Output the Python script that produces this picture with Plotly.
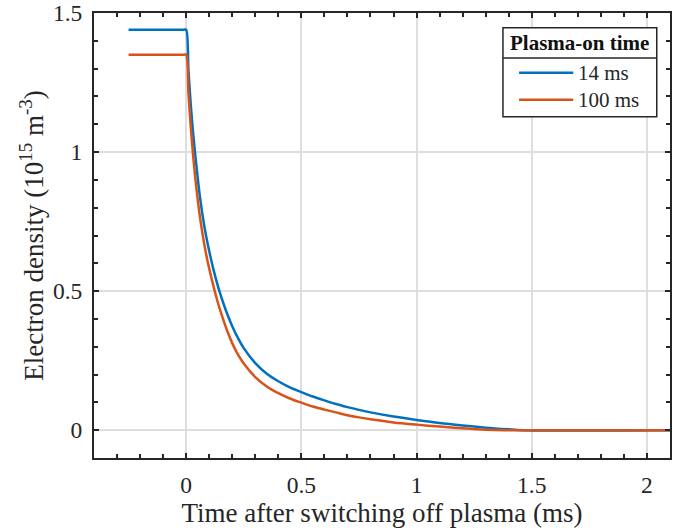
import plotly.graph_objects as go

# Data (time in ms, density in 1e15 m^-3)
t_14 = [-0.25, -0.01, 0, 0.01, 0.02, 0.03, 0.04, 0.06, 0.08, 0.10, 0.12, 0.14, 0.16, 0.18,
        0.20, 0.22, 0.25, 0.30, 0.35, 0.40, 0.45, 0.50, 0.55, 0.60, 0.65, 0.70, 0.75, 0.80,
        0.90, 1.00, 1.10, 1.20, 1.30, 1.40, 1.46, 2.1]
n_14 = [1.44, 1.44, 1.44, 1.292, 1.171, 1.071, 0.986, 0.838, 0.728, 0.644, 0.573, 0.512,
        0.46, 0.414, 0.374, 0.339, 0.295, 0.241, 0.203, 0.176, 0.154, 0.137, 0.121, 0.107,
        0.094, 0.083, 0.073, 0.064, 0.049, 0.037, 0.026, 0.017, 0.009, 0.003, 0.0, 0.0]

t_100 = [-0.25, -0.01, 0, 0.01, 0.02, 0.03, 0.04, 0.06, 0.08, 0.10, 0.12, 0.14, 0.16, 0.18,
         0.20, 0.22, 0.25, 0.30, 0.35, 0.40, 0.45, 0.50, 0.55, 0.60, 0.65, 0.70, 0.75, 0.80,
         0.90, 1.00, 1.10, 1.20, 1.30, 1.38, 2.1]
n_100 = [1.35, 1.35, 1.35, 1.21, 1.09, 0.99, 0.904, 0.766, 0.662, 0.581, 0.513, 0.452,
         0.40, 0.353, 0.313, 0.279, 0.24, 0.191, 0.157, 0.133, 0.114, 0.099, 0.085, 0.074,
         0.064, 0.054, 0.046, 0.039, 0.028, 0.02, 0.013, 0.007, 0.002, 0.0, 0.0]

series_names = ["14 ms", "100 ms"]
series_colors = ["#0072BD", "#D95319"]
legend_title = "Plasma-on time"

x_ticks = [0, 0.5, 1, 1.5, 2]
x_tick_labels = ["0", "0.5", "1", "1.5", "2"]
y_ticks = [0, 0.5, 1, 1.5]
y_tick_labels = ["0", "0.5", "1", "1.5"]

FONT = "Liberation Serif"
INK = "#262626"

fig = go.Figure()
for t, n, name, col in zip([t_14, t_100], [n_14, n_100], series_names, series_colors):
    fig.add_trace(go.Scatter(x=t, y=n, mode="lines", name=name, showlegend=False,
                             line=dict(color=col, width=2.5, shape="spline", smoothing=0.8)))

axis_common = dict(
    showline=True, linecolor=INK, linewidth=2, mirror="ticks",
    ticks="inside", ticklen=5, tickwidth=1.5, tickcolor=INK,
    showgrid=True, gridcolor="#dedede", gridwidth=1.5,
    zeroline=False, automargin=False,
    tickfont=dict(family=FONT, size=23.5, color=INK),
)

fig.update_xaxes(range=[-0.4, 2.1], tickvals=x_ticks, ticktext=x_tick_labels,
                 ticklabelstandoff=5,
                 minor=dict(dtick=0.1, tick0=0, ticks="inside", ticklen=4,
                            tickcolor=INK, tickwidth=1.5, showgrid=False),
                 title=dict(text="Time after switching off plasma (ms)",
                            font=dict(family=FONT, size=27, color=INK), standoff=0),
                 **axis_common)
fig.update_yaxes(range=[-0.1, 1.5], tickvals=y_ticks, ticktext=y_tick_labels,
                 ticklabelstandoff=5,
                 minor=dict(dtick=0.1, tick0=0, ticks="inside", ticklen=4,
                            tickcolor=INK, tickwidth=1.5, showgrid=False),
                 title=dict(text="Electron density (10<sup>15</sup> m<sup>-3</sup>)",
                            font=dict(family=FONT, size=27, color=INK), standoff=1),
                 **axis_common)

# Legend drawn in paper coordinates (box, title separator, line samples, labels)
LX0, LX1, LY0, LY1 = 0.710, 0.977, 0.767, 0.967
SEP_Y = 0.899
SAMPLE_X0, SAMPLE_X1, LABEL_X = 0.738, 0.832, 0.837
ROW_Y = [0.866, 0.805]

fig.add_shape(type="rect", xref="paper", yref="paper", x0=LX0, x1=LX1, y0=LY0, y1=LY1,
              fillcolor="white", line=dict(color=INK, width=1.5), layer="above")
fig.add_shape(type="line", xref="paper", yref="paper", x0=LX0, x1=LX1, y0=SEP_Y, y1=SEP_Y,
              line=dict(color=INK, width=1.5), layer="above")
fig.add_annotation(xref="paper", yref="paper", x=(LX0 + LX1) / 2, y=(LY1 + SEP_Y) / 2,
                   text="<b>" + legend_title + "</b>", showarrow=False,
                   xanchor="center", yanchor="middle",
                   font=dict(family=FONT, size=21, color="#111111"))
for name, col, ry in zip(series_names, series_colors, ROW_Y):
    fig.add_shape(type="line", xref="paper", yref="paper", x0=SAMPLE_X0, x1=SAMPLE_X1,
                  y0=ry, y1=ry, line=dict(color=col, width=2.5), layer="above")
    fig.add_annotation(xref="paper", yref="paper", x=LABEL_X, y=ry, text=name,
                       showarrow=False, xanchor="left", yanchor="middle",
                       font=dict(family=FONT, size=21, color=INK))

fig.update_layout(
    width=680, height=530,
    margin=dict(l=94, r=10, t=13, b=72),
    plot_bgcolor="white", paper_bgcolor="white",
    font=dict(family=FONT, color=INK),
    showlegend=False,
)

fig.write_html("out.html", config={"displayModeBar": False},
               post_script="document.body.style.margin='0px';")
